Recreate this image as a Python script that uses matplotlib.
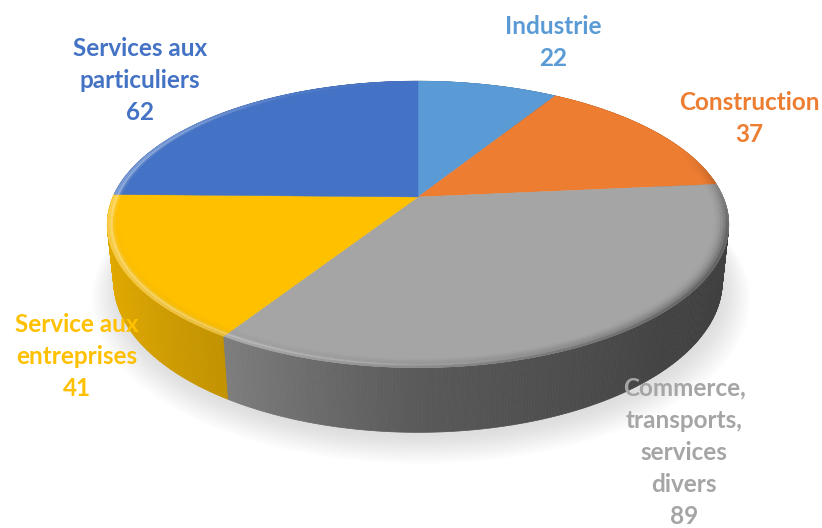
import numpy as np
import matplotlib
matplotlib.use("Agg")
import matplotlib.pyplot as plt
from matplotlib.collections import PolyCollection
from matplotlib.colors import to_rgb

# ---- data -------------------------------------------------------------
categories = ["Industrie", "Construction",
              "Commerce,\ntransports,\nservices\ndivers",
              "Service aux\nentreprises", "Services aux\nparticuliers"]
values = [22, 37, 89, 41, 62]
colors = ["#5B9BD5", "#ED7D31", "#A5A5A5", "#FFC000", "#4472C4"]

# label anchor (centre x, centre y of first line) in pixels
label_pos = [(553, 26), (749, 103), (684, 388), (77, 325), (140, 49)]
LINE = 32.0

# ---- canvas -----------------------------------------------------------
W, H = 822, 528
fig = plt.figure(figsize=(W / 100, H / 100), dpi=100)
ax = fig.add_axes([0, 0, 1, 1])
ax.set_xlim(0, W)
ax.set_ylim(H, 0)
ax.axis("off")

# ---- perspective camera for a tilted disc ------------------------------
D = 4.66
elev = np.radians(26.9)
F = 305 * D
ce, se = np.cos(elev), np.sin(elev)
OX, OY = 418, 197
THICK = 0.21


def project(X, Y, Z):
    depth = D + Y * ce - Z * se
    sx = OX + F * X / depth
    sy = OY - F * (Y * se + Z * ce) / depth
    return sx, sy, depth


def rim(alpha_deg, r=1.0, z=0.0):
    a = np.radians(alpha_deg)
    return project(r * np.sin(a), r * np.cos(a), z)


def wall_factor(alpha):
    a = np.mod(alpha, 360)
    pts = [0, 60, 90, 135, 180, 212, 240, 270, 300, 360]
    f = [0.60, 0.45, 0.38, 0.40, 0.54, 0.76, 0.86, 0.91, 0.93, 0.60]
    return np.interp(a, pts, f)


def highlight(alpha):
    a = np.mod(alpha, 360)
    pts = [0, 120, 160, 190, 225, 270, 300, 330, 360]
    h = [0.0, 0.0, 0.12, 0.30, 0.42, 0.45, 0.40, 0.1, 0.0]
    return np.interp(a, pts, h)


fracs = np.array(values, dtype=float) / np.sum(values)
bounds = np.concatenate([[0], np.cumsum(fracs) * 360])

# ---- soft shadow under the disc ----------------------------------------
aa_all = np.linspace(0, 360, 361)
for k in range(12):
    r = 0.99 + 0.008 * k
    x, y, _ = rim(aa_all, r, -THICK)
    ax.fill(x + 3, y + 6 + 0.7 * k, color="#909090", alpha=0.022, lw=0,
            zorder=1)

# ---- outer walls --------------------------------------------------------
quads, qcols, qdepth = [], [], []
for i in range(len(values)):
    a0, a1 = bounds[i], bounds[i + 1]
    n = max(int(np.ceil((a1 - a0) * 2)), 2)
    aa = np.linspace(a0, a1, n + 1)
    base = np.array(to_rgb(colors[i]))
    xt, yt, dt = rim(aa, 1.0, 0.0)
    xb, yb, _ = rim(aa, 1.0, -THICK)
    for j in range(n):
        quads.append([(xt[j], yt[j]), (xt[j + 1], yt[j + 1]),
                      (xb[j + 1], yb[j + 1]), (xb[j], yb[j])])
        am = 0.5 * (aa[j] + aa[j + 1])
        qcols.append(np.clip(base * wall_factor(am), 0, 1))
        qdepth.append(0.5 * (dt[j] + dt[j + 1]))
order = np.argsort(qdepth)[::-1]
quads = [quads[k] for k in order]
qcols = [qcols[k] for k in order]
ax.add_collection(PolyCollection(quads, facecolors=qcols, edgecolors=qcols,
                                 linewidths=0.5, zorder=2))

# ---- top faces ----------------------------------------------------------
cx, cy, _ = project(0, 0, 0)
for i in range(len(values)):
    a0, a1 = bounds[i], bounds[i + 1]
    aa = np.linspace(a0, a1, max(int(np.ceil(a1 - a0)) * 2, 4))
    x, y, _ = rim(aa)
    ax.fill(np.r_[cx, x], np.r_[cy, y], color=colors[i], lw=0.3,
            ec=colors[i], zorder=3)

# ---- bevel along the rim -----------------------------------------------
R0 = 0.95
rs = np.linspace(R0, 1.0, 7)
bquads, bcols = [], []
for i in range(len(values)):
    a0, a1 = bounds[i], bounds[i + 1]
    n = max(int(np.ceil(a1 - a0)), 2)
    aa = np.linspace(a0, a1, n + 1)
    base = np.array(to_rgb(colors[i]))
    for k in range(len(rs) - 1):
        xi, yi, _ = rim(aa, rs[k])
        xo, yo, _ = rim(aa, rs[k + 1])
        t = 0.5 * (rs[k] + rs[k + 1] - 2 * R0) / (1 - R0)
        for j in range(n):
            am = 0.5 * (aa[j] + aa[j + 1])
            w = np.clip((-np.cos(np.radians(am)) + 0.35) / 0.6, 0, 1)
            f = 1 + (wall_factor(am) * 1.05 - 1) * w * t ** 2 * 0.8
            c = base * f
            hl = highlight(am) * np.exp(-((t - 0.8) / 0.18) ** 2)
            c = c * (1 - hl) + hl
            c = np.clip(c, 0, 1)
            bquads.append([(xi[j], yi[j]), (xi[j + 1], yi[j + 1]),
                           (xo[j + 1], yo[j + 1]), (xo[j], yo[j])])
            bcols.append(c)
ax.add_collection(PolyCollection(bquads, facecolors=bcols, edgecolors=bcols,
                                 linewidths=0.3, zorder=4))

# ---- labels -------------------------------------------------------------
for name, v, col, (lx, ly) in zip(categories, values, colors, label_pos):
    lines = name.split("\n") + [str(v)]
    for k, line in enumerate(lines):
        ax.text(lx, ly + k * LINE, line, ha="center", va="center",
                color=col, fontsize=17.5, fontweight="bold",
                family=["Lato", "DejaVu Sans"], zorder=6)

fig.savefig("out.png", dpi=100)
